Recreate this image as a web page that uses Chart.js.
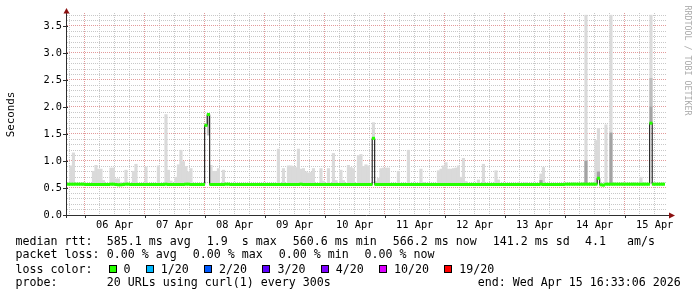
<!DOCTYPE html>
<html>
<head>
<meta charset="utf-8">
<title>SmokePing latency</title>
<script src="https://cdn.jsdelivr.net/npm/chart.js@4.4.1/dist/chart.umd.min.js"></script>
<style>
  body { margin: 0; background: #fff; }
  #wrap { position: relative; width: 697px; height: 297px; background: #fff; color: #000;
          font-family: 'DejaVu Sans Mono', monospace; overflow: hidden; }
  #wrap canvas { position: absolute; left: 0; top: 0; }
  .t { position: absolute; font-size: 11.63px; line-height: 1; white-space: pre; }
  #ylabel { position: absolute; left: -15px; top: 109px; width: 51px; height: 11px; line-height: 11px;
            font-size: 10.8px; font-weight: normal; color: #000; text-align: center; white-space: pre;
            transform: rotate(-90deg); }
  #credit { position: absolute; left: 632px; top: 56px; width: 111px; height: 9px; line-height: 9px;
            font-size: 8.3px; color: #aaa; text-align: center; white-space: pre; transform: rotate(90deg); }
  #loss { position: absolute; left: 108.5px; top: 263.5px; display: flex; align-items: flex-start; }
  #loss .box { width: 8px; height: 8px; box-sizing: border-box; border: 1px solid #000; margin: 1.8px 7px 0 0; }
  #loss .lab { font-size: 11.63px; line-height: 1; white-space: pre; margin-right: 15.3px; }
</style>
</head>
<body>
<div id="wrap">
  <canvas id="chart" width="697" height="297"></canvas>
  <div id="ylabel">Seconds</div>
  <div id="credit">RRDTOOL / TOBI OETIKER</div>

  <span class="t" style="left:15.5px;top:235.5px">median rtt:</span>
  <span class="t" style="left:106.7px;top:235.5px">585.1 ms avg</span>
  <span class="t" style="left:206.7px;top:235.5px">1.9  s max</span>
  <span class="t" style="left:292.7px;top:235.5px">560.6 ms min</span>
  <span class="t" style="left:392.7px;top:235.5px">566.2 ms now</span>
  <span class="t" style="left:492.7px;top:235.5px">141.2 ms sd</span>
  <span class="t" style="left:585.1px;top:235.5px">4.1   am/s</span>

  <span class="t" style="left:15.5px;top:249.2px">packet loss:</span>
  <span class="t" style="left:106.7px;top:249.2px">0.00 % avg</span>
  <span class="t" style="left:192.7px;top:249.2px">0.00 % max</span>
  <span class="t" style="left:278.7px;top:249.2px">0.00 % min</span>
  <span class="t" style="left:364.4px;top:249.2px">0.00 % now</span>

  <span class="t" style="left:15.5px;top:263.5px">loss color:</span>
  <div id="loss"></div>

  <span class="t" style="left:15.5px;top:277.2px">probe:</span>
  <span class="t" style="left:106.7px;top:277.2px">20 URLs using curl(1) every 300s</span>
  <span class="t" style="left:477.7px;top:277.2px">end: Wed Apr 15 16:33:06 2026</span>
</div>

<script>
// one bin per hour, first bin = 05 Apr 17:00 (hours counted from 06 Apr 00:00)
const firstHour = -7;
const dayLabels = ['06 Apr', '07 Apr', '08 Apr', '09 Apr', '10 Apr', '11 Apr', '12 Apr', '13 Apr', '14 Apr', '15 Apr'];

// median rtt in seconds, per hour
const medianRtt = [
  0.57, 0.57, 0.57, 0.57, 0.57, 0.57, 0.57,
  // 06 Apr
  0.565, 0.565, 0.565, 0.565, 0.565, 0.565, 0.565, 0.565, 0.565, 0.565, 0.57, 0.57,
  0.565, 0.56, 0.56, 0.565, 0.57, 0.57, 0.565, 0.565, 0.565, 0.565, 0.565, 0.565,
  // 07 Apr
  0.565, 0.565, 0.565, 0.565, 0.565, 0.565, 0.565, 0.565, 0.57, 0.565, 0.565, 0.565,
  0.565, 0.565, 0.565, 0.565, 0.57, 0.57, 0.565, 0.565, 0.565, 0.565, 0.565, 0.565,
  // 08 Apr
  1.66, 1.86, 0.565, 0.565, 0.565, 0.565, 0.565, 0.565, 0.57, 0.57, 0.565, 0.565,
  0.565, 0.565, 0.565, 0.565, 0.565, 0.565, 0.565, 0.565, 0.565, 0.565, 0.565, 0.565,
  // 09 Apr
  0.565, 0.565, 0.565, 0.565, 0.565, 0.565, 0.565, 0.565, 0.565, 0.565, 0.565, 0.565,
  0.565, 0.565, 0.57, 0.565, 0.565, 0.565, 0.565, 0.565, 0.565, 0.565, 0.565, 0.565,
  // 10 Apr
  0.565, 0.565, 0.565, 0.565, 0.565, 0.565, 0.565, 0.565, 0.565, 0.565, 0.565, 0.565,
  0.565, 0.565, 0.565, 0.565, 0.565, 0.565, 0.565, 1.42, 0.565, 0.565, 0.565, 0.565,
  // 11 Apr
  0.565, 0.565, 0.565, 0.565, 0.565, 0.565, 0.565, 0.565, 0.565, 0.565, 0.565, 0.565,
  0.565, 0.565, 0.565, 0.565, 0.565, 0.565, 0.565, 0.565, 0.565, 0.565, 0.565, 0.565,
  // 12 Apr
  0.565, 0.565, 0.565, 0.565, 0.565, 0.565, 0.565, 0.565, 0.565, 0.565, 0.565, 0.565,
  0.565, 0.565, 0.565, 0.565, 0.565, 0.565, 0.565, 0.565, 0.565, 0.565, 0.565, 0.565,
  // 13 Apr
  0.565, 0.565, 0.565, 0.565, 0.565, 0.565, 0.565, 0.565, 0.565, 0.565, 0.565, 0.565,
  0.565, 0.565, 0.57, 0.565, 0.565, 0.565, 0.565, 0.565, 0.565, 0.565, 0.565, 0.565,
  // 14 Apr
  0.57, 0.57, 0.57, 0.57, 0.57, 0.57, 0.57, 0.57, 0.57, 0.57, 0.57, 0.57,
  0.57, 0.68, 0.56, 0.555, 0.57, 0.57, 0.57, 0.57, 0.57, 0.57, 0.57, 0.57,
  // 15 Apr
  0.57, 0.57, 0.57, 0.57, 0.57, 0.57, 0.57, 0.57, 0.57, 0.57, 1.70, 0.57,
  0.57, 0.57, 0.57, 0.57
];

// top of the light smoke per hour (0 = no smoke above the median)
const smokeTop = [
  0, 0.91, 1.15, 0, 0, 0, 0,
  // 06 Apr
  0, 0, 0, 0.81, 0.92, 0.85, 0.85, 0.64, 0, 0, 0.87, 0.87,
  0.67, 0.67, 0.60, 0, 0.83, 0, 0, 0.81, 0.94, 0, 0, 0,
  // 07 Apr
  0.89, 0, 0, 0, 0, 0.91, 0, 0, 1.86, 0.83, 0.63, 0,
  0.70, 0.93, 1.20, 0.99, 0.90, 0.80, 0.86, 0, 0, 0, 0, 0,
  // 08 Apr
  0, 0, 0.92, 0.81, 0.81, 0.86, 0, 0.83, 0, 0, 0, 0,
  0, 0, 0, 0, 0, 0, 0, 0, 0, 0, 0, 0,
  // 09 Apr
  0, 0, 0, 0, 0, 1.22, 0, 0.86, 0, 0.91, 0.91, 0.90,
  0.88, 1.22, 0.85, 0.86, 0.80, 0.78, 0.79, 0.86, 0, 0, 0.86, 0.63,
  // 10 Apr
  0, 0.86, 0, 1.14, 0.64, 0, 0.83, 0.64, 0, 0.92, 0.88, 0.86,
  0, 1.10, 1.12, 0.90, 0.93, 0.91, 0, 1.71, 0.62, 0.68, 0.86, 0.87,
  // 11 Apr
  0.87, 0.87, 0, 0, 0, 0.81, 0, 0, 0, 1.20, 0, 0,
  0, 0, 0.85, 0.60, 0, 0, 0, 0, 0, 0.82, 0.85, 0.91,
  // 12 Apr
  0.97, 0.85, 0.85, 0.86, 0.87, 0.91, 0.70, 1.05, 0.62, 0, 0, 0,
  0, 0.65, 0, 0.94, 0, 0, 0, 0, 0.82, 0.65, 0, 0,
  // 13 Apr
  0, 0, 0, 0, 0, 0.60, 0, 0, 0.60, 0, 0, 0,
  0, 0, 0.76, 0.88, 0, 0, 0, 0, 0, 0, 0, 0,
  // 14 Apr
  0, 0, 0, 0, 0, 0, 0, 0, 3.70, 0, 0, 0,
  1.38, 1.60, 0, 0, 1.67, 0, 3.70, 0, 0, 0, 0, 0,
  // 15 Apr
  0, 0, 0, 0, 0, 0, 0.70, 0, 0, 0, 3.70, 0,
  0, 0, 0, 0
];

// denser smoke bands (bin index, bottom, top)
const midBins = [56, 233];
const midLow  = [1.48, 2.00];
const midHigh = [1.86, 2.53];
const darkBins = [189, 207, 212, 217, 233];
const darkLow  = [0.565, 0.57, 0.68, 0.57, 1.70];
const darkHigh = [0.64, 1.00, 0.80, 1.52, 2.00];

const lossLabels = ['0', '1/20', '2/20', '3/20', '4/20', '10/20', '19/20'];
const lossColors = ['#26ff00', '#00b8ff', '#0059ff', '#5e00ff', '#7e00ff', '#dd00ff', '#ff0000'];

// loss colour legend
const lossDiv = document.getElementById('loss');
lossLabels.forEach((lab, i) => {
  const box = document.createElement('span');
  box.className = 'box';
  box.style.background = lossColors[i];
  const txt = document.createElement('span');
  txt.className = 'lab';
  txt.textContent = lab;
  lossDiv.appendChild(box);
  lossDiv.appendChild(txt);
});

const binX = i => firstHour + i + 0.5;

const smokeData = [];
smokeTop.forEach((top, i) => {
  if (top > medianRtt[i]) smokeData.push({x: binX(i), y: [medianRtt[i], top]});
});
const band = (bins, low, high) => bins.map((b, k) => ({x: binX(b), y: [low[k], high[k]]}));
const medianLine = medianRtt.map((v, i) => ({x: binX(i), y: v}));
const medianBlocks = medianRtt.map((v, i) => ({x: binX(i), y: [v - 0.022, v + 0.022]}));

const gridHours = [];
for (let h = -6; h <= 228; h += 6) gridHours.push(h);
const gridSecs = [];
for (let k = 0; k <= 37; k++) gridSecs.push(k / 10);

const isMajorY = v => Math.round(v * 10) % 5 === 0;
const minorGrid = '#c8c8c8';
const majorGrid = '#e39a9a';
const monoFont = "'DejaVu Sans Mono', monospace";

const rrdAxes = {
  id: 'rrdAxes',
  afterDraw(chart) {
    const {ctx, chartArea: a, scales: {x, y}} = chart;
    ctx.save();
    ctx.strokeStyle = '#2e2e2e';
    ctx.lineWidth = 1;
    ctx.beginPath();
    ctx.moveTo(a.left - 0.5, a.bottom + 3);
    ctx.lineTo(a.left - 0.5, a.top - 2);
    ctx.moveTo(a.left - 4, a.bottom + 0.5);
    ctx.lineTo(a.right + 3, a.bottom + 0.5);
    y.ticks.forEach(t => {
      if (isMajorY(t.value)) {
        const py = Math.round(y.getPixelForValue(t.value)) + 0.5;
        ctx.moveTo(a.left - 4, py);
        ctx.lineTo(a.left + 1, py);
      }
    });
    x.ticks.forEach(t => {
      if (t.value % 24 === 0) {
        const px = Math.round(x.getPixelForValue(t.value)) + 0.5;
        ctx.moveTo(px, a.bottom);
        ctx.lineTo(px, a.bottom + 3);
      }
    });
    ctx.stroke();

    ctx.fillStyle = '#8b1010';
    ctx.beginPath();
    ctx.moveTo(a.left - 0.5, a.top - 5);
    ctx.lineTo(a.left - 3.5, a.top + 0.5);
    ctx.lineTo(a.left + 2.5, a.top + 0.5);
    ctx.closePath();
    ctx.fill();
    ctx.beginPath();
    ctx.moveTo(a.right + 8, a.bottom + 0.5);
    ctx.lineTo(a.right + 2, a.bottom - 2.5);
    ctx.lineTo(a.right + 2, a.bottom + 3.5);
    ctx.closePath();
    ctx.fill();
    ctx.restore();
  }
};

new Chart(document.getElementById('chart'), {
  type: 'bar',
  data: {
    datasets: [
      {type: 'bar', data: medianBlocks, backgroundColor: lossColors[0], order: 0},
      {type: 'line', data: medianLine, borderColor: '#000', borderWidth: 1, pointRadius: 0,
       stepped: 'middle', fill: false, order: 1},
      {type: 'bar', data: band(darkBins, darkLow, darkHigh), backgroundColor: '#a3a3a3', order: 2},
      {type: 'bar', data: band(midBins, midLow, midHigh), backgroundColor: '#bebebe', order: 3},
      {type: 'bar', data: smokeData, backgroundColor: '#dadada', order: 4}
    ]
  },
  options: {
    responsive: false,
    animation: false,
    devicePixelRatio: 1,
    layout: {padding: {top: 13, right: 30, left: 0, bottom: 0}},
    datasets: {
      bar: {grouped: false, barPercentage: 1, categoryPercentage: 1, borderWidth: 0}
    },
    plugins: {legend: {display: false}, tooltip: {enabled: false}},
    scales: {
      x: {
        type: 'linear',
        min: -7.08,
        max: 232.92,
        offset: false,
        afterFit: s => { s.height = 82; },
        afterBuildTicks: s => { s.ticks = gridHours.map(v => ({value: v})); },
        grid: {
          offset: false,
          drawTicks: false,
          color: c => (c.tick && c.tick.value % 24 === 0) ? majorGrid : minorGrid
        },
        border: {display: false, dash: [1, 1]},
        ticks: {
          autoSkip: false,
          maxRotation: 0,
          padding: 4,
          color: '#000',
          font: {family: monoFont, size: 10.3},
          callback: v => ((v - 12) % 24 === 0) ? dayLabels[(v - 12) / 24] : ''
        }
      },
      y: {
        min: 0,
        max: 3.74,
        afterFit: s => { s.width = 67; },
        afterBuildTicks: s => { s.ticks = gridSecs.map(v => ({value: v})); },
        grid: {
          drawTicks: false,
          color: c => (c.tick && isMajorY(c.tick.value)) ? majorGrid : minorGrid
        },
        border: {display: false, dash: [1, 1]},
        ticks: {
          autoSkip: false,
          padding: 5,
          color: '#000',
          font: {family: monoFont, size: 10.3},
          callback: v => isMajorY(v) ? v.toFixed(1) : ''
        }
      }
    }
  },
  plugins: [rrdAxes]
});
</script>
</body>
</html>
